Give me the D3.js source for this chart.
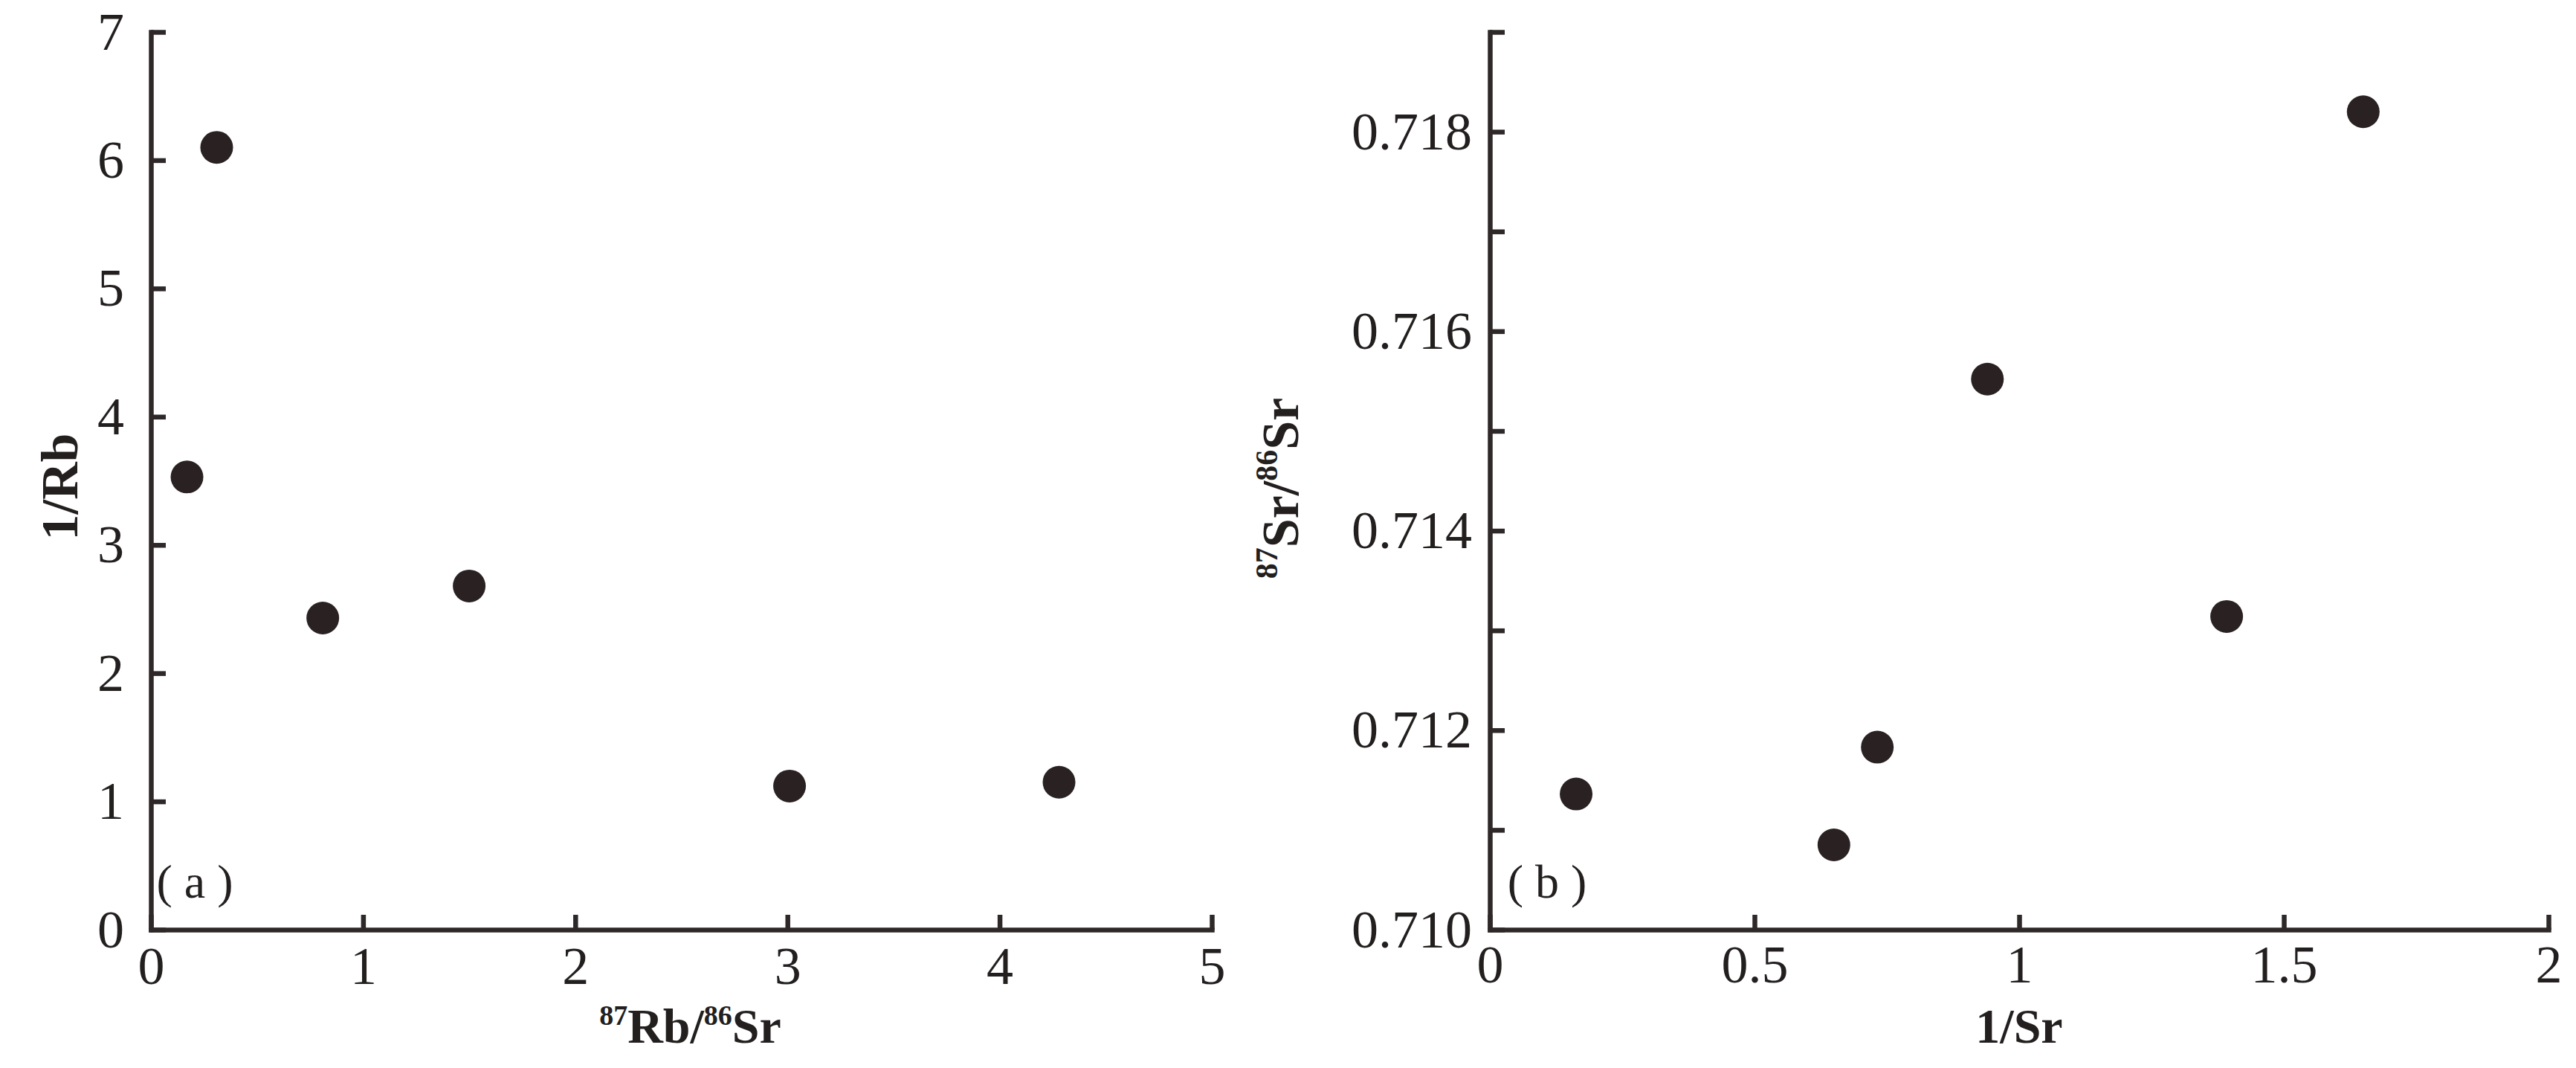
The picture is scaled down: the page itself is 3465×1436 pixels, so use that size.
<!DOCTYPE html>
<html>
<head>
<meta charset="utf-8">
<script src="https://cdn.jsdelivr.net/npm/d3@7"></script>
<style>
  html, body { margin: 0; padding: 0; background: #ffffff; }
  svg { display: block; }
  .tick text { font-family: "Liberation Serif", "Times New Roman", serif; fill: #231f1f; }
</style>
</head>
<body>
<script>
// ---- Data ----
const leftX = [0.17, 0.31, 0.81, 1.50, 3.01, 4.28];      // 87Rb/86Sr
const leftY = [3.53, 6.10, 2.43, 2.68, 1.12, 1.15];      // 1/Rb
const leftXTicks = [0, 1, 2, 3, 4, 5];
const leftYTicks = [0, 1, 2, 3, 4, 5, 6, 7];

const rightX = [0.163, 0.65, 0.732, 0.94, 1.392, 1.65];   // 1/Sr
const rightY = [0.71136, 0.71085, 0.71183, 0.71552, 0.71314, 0.71820]; // 87Sr/86Sr
const rightXTicks = [0, 0.5, 1, 1.5, 2];
const rightYTicks = [0.710, 0.711, 0.712, 0.713, 0.714, 0.715, 0.716, 0.717, 0.718, 0.719];
const rightYLabels = [0.710, 0.712, 0.714, 0.716, 0.718];

const W = 3465, H = 1436;
const ink = "#2e2828";
const dotFill = "#2a2222";
const serif = "Liberation Serif, Times New Roman, serif";

const svg = d3.select("body").append("svg")
  .attr("width", W).attr("height", H)
  .attr("viewBox", `0 0 ${W} ${H}`);
svg.append("rect").attr("width", W).attr("height", H).attr("fill", "#fff");

function styleAxis(g) {
  g.select(".domain").attr("stroke", ink).attr("stroke-width", 6.5).attr("stroke-linecap", "square");
  g.selectAll(".tick line").attr("stroke", ink).attr("stroke-width", 6.5);
  g.selectAll(".tick text").attr("font-size", 72).attr("fill", "#231f1f");
}

// ---------- Panel (a) ----------
const xa = d3.scaleLinear().domain([0, 5]).range([203, 1630]);
const ya = d3.scaleLinear().domain([0, 7]).range([1250, 43]);

const gaX = svg.append("g").attr("transform", `translate(0,${ya(0)})`)
  .call(d3.axisBottom(xa).tickValues(leftXTicks).tickFormat(d3.format("d"))
    .tickSizeInner(-20).tickSizeOuter(0).tickPadding(22));
styleAxis(gaX);

const gaY = svg.append("g").attr("transform", `translate(${xa(0)},0)`)
  .call(d3.axisLeft(ya).tickValues(leftYTicks).tickFormat(d3.format("d"))
    .tickSizeInner(-20).tickSizeOuter(0).tickPadding(36));
styleAxis(gaY);

svg.append("g").selectAll("circle").data(leftX.map((x, i) => [x, leftY[i]]))
  .join("circle")
  .attr("cx", d => xa(d[0])).attr("cy", d => ya(d[1]))
  .attr("r", 22).attr("fill", dotFill);

// panel label
svg.append("text").attr("x", 262).attr("y", 1207)
  .attr("text-anchor", "middle")
  .attr("font-family", serif).attr("font-size", 64).attr("fill", "#231f1f")
  .text("( a )");

// axis titles (a)
const ta = svg.append("text")
  .attr("x", (xa(0) + xa(5)) / 2 + 12).attr("y", 1402)
  .attr("text-anchor", "middle")
  .attr("font-family", serif).attr("font-weight", "bold")
  .attr("font-size", 66).attr("fill", "#231f1f");
ta.append("tspan").attr("font-size", 38).attr("dy", -24).text("87");
ta.append("tspan").attr("dy", 24).text("Rb/");
ta.append("tspan").attr("font-size", 38).attr("dy", -24).text("86");
ta.append("tspan").attr("dy", 24).text("Sr");

svg.append("text")
  .attr("transform", `translate(104,${(ya(0) + ya(7)) / 2 + 8}) rotate(-90)`)
  .attr("text-anchor", "middle")
  .attr("font-family", serif).attr("font-weight", "bold")
  .attr("font-size", 70).attr("fill", "#231f1f")
  .text("1/Rb");

// ---------- Panel (b) ----------
const xb = d3.scaleLinear().domain([0, 2]).range([2004, 3428]);
const yb = d3.scaleLinear().domain([0.710, 0.719]).range([1250, 43]);

const gbX = svg.append("g").attr("transform", `translate(0,${yb(0.710)})`)
  .call(d3.axisBottom(xb).tickValues(rightXTicks).tickFormat(d => d3.format("")(d))
    .tickSizeInner(-20).tickSizeOuter(0).tickPadding(20));
styleAxis(gbX);

const labelSet = new Set(rightYLabels.map(v => v.toFixed(3)));
const gbY = svg.append("g").attr("transform", `translate(${xb(0)},0)`)
  .call(d3.axisLeft(yb).tickValues(rightYTicks)
    .tickFormat(d => labelSet.has(d.toFixed(3)) ? d.toFixed(3) : "")
    .tickSizeInner(-20).tickSizeOuter(0).tickPadding(24));
styleAxis(gbY);

svg.append("g").selectAll("circle").data(rightX.map((x, i) => [x, rightY[i]]))
  .join("circle")
  .attr("cx", d => xb(d[0])).attr("cy", d => yb(d[1]))
  .attr("r", 22).attr("fill", dotFill);

svg.append("text").attr("x", 2081).attr("y", 1207)
  .attr("text-anchor", "middle")
  .attr("font-family", serif).attr("font-size", 64).attr("fill", "#231f1f")
  .text("( b )");

svg.append("text")
  .attr("x", (xb(0) + xb(2)) / 2).attr("y", 1402)
  .attr("text-anchor", "middle")
  .attr("font-family", serif).attr("font-weight", "bold")
  .attr("font-size", 66).attr("fill", "#231f1f")
  .text("1/Sr");

const tb = svg.append("text")
  .attr("transform", `translate(1746,${(yb(0.710) + yb(0.719)) / 2 + 10}) rotate(-90)`)
  .attr("text-anchor", "middle")
  .attr("font-family", serif).attr("font-weight", "bold")
  .attr("font-size", 70).attr("fill", "#231f1f");
tb.append("tspan").attr("font-size", 42).attr("dy", -28).text("87");
tb.append("tspan").attr("dy", 28).text("Sr/");
tb.append("tspan").attr("font-size", 42).attr("dy", -28).text("86");
tb.append("tspan").attr("dy", 28).text("Sr");
</script>
</body>
</html>
